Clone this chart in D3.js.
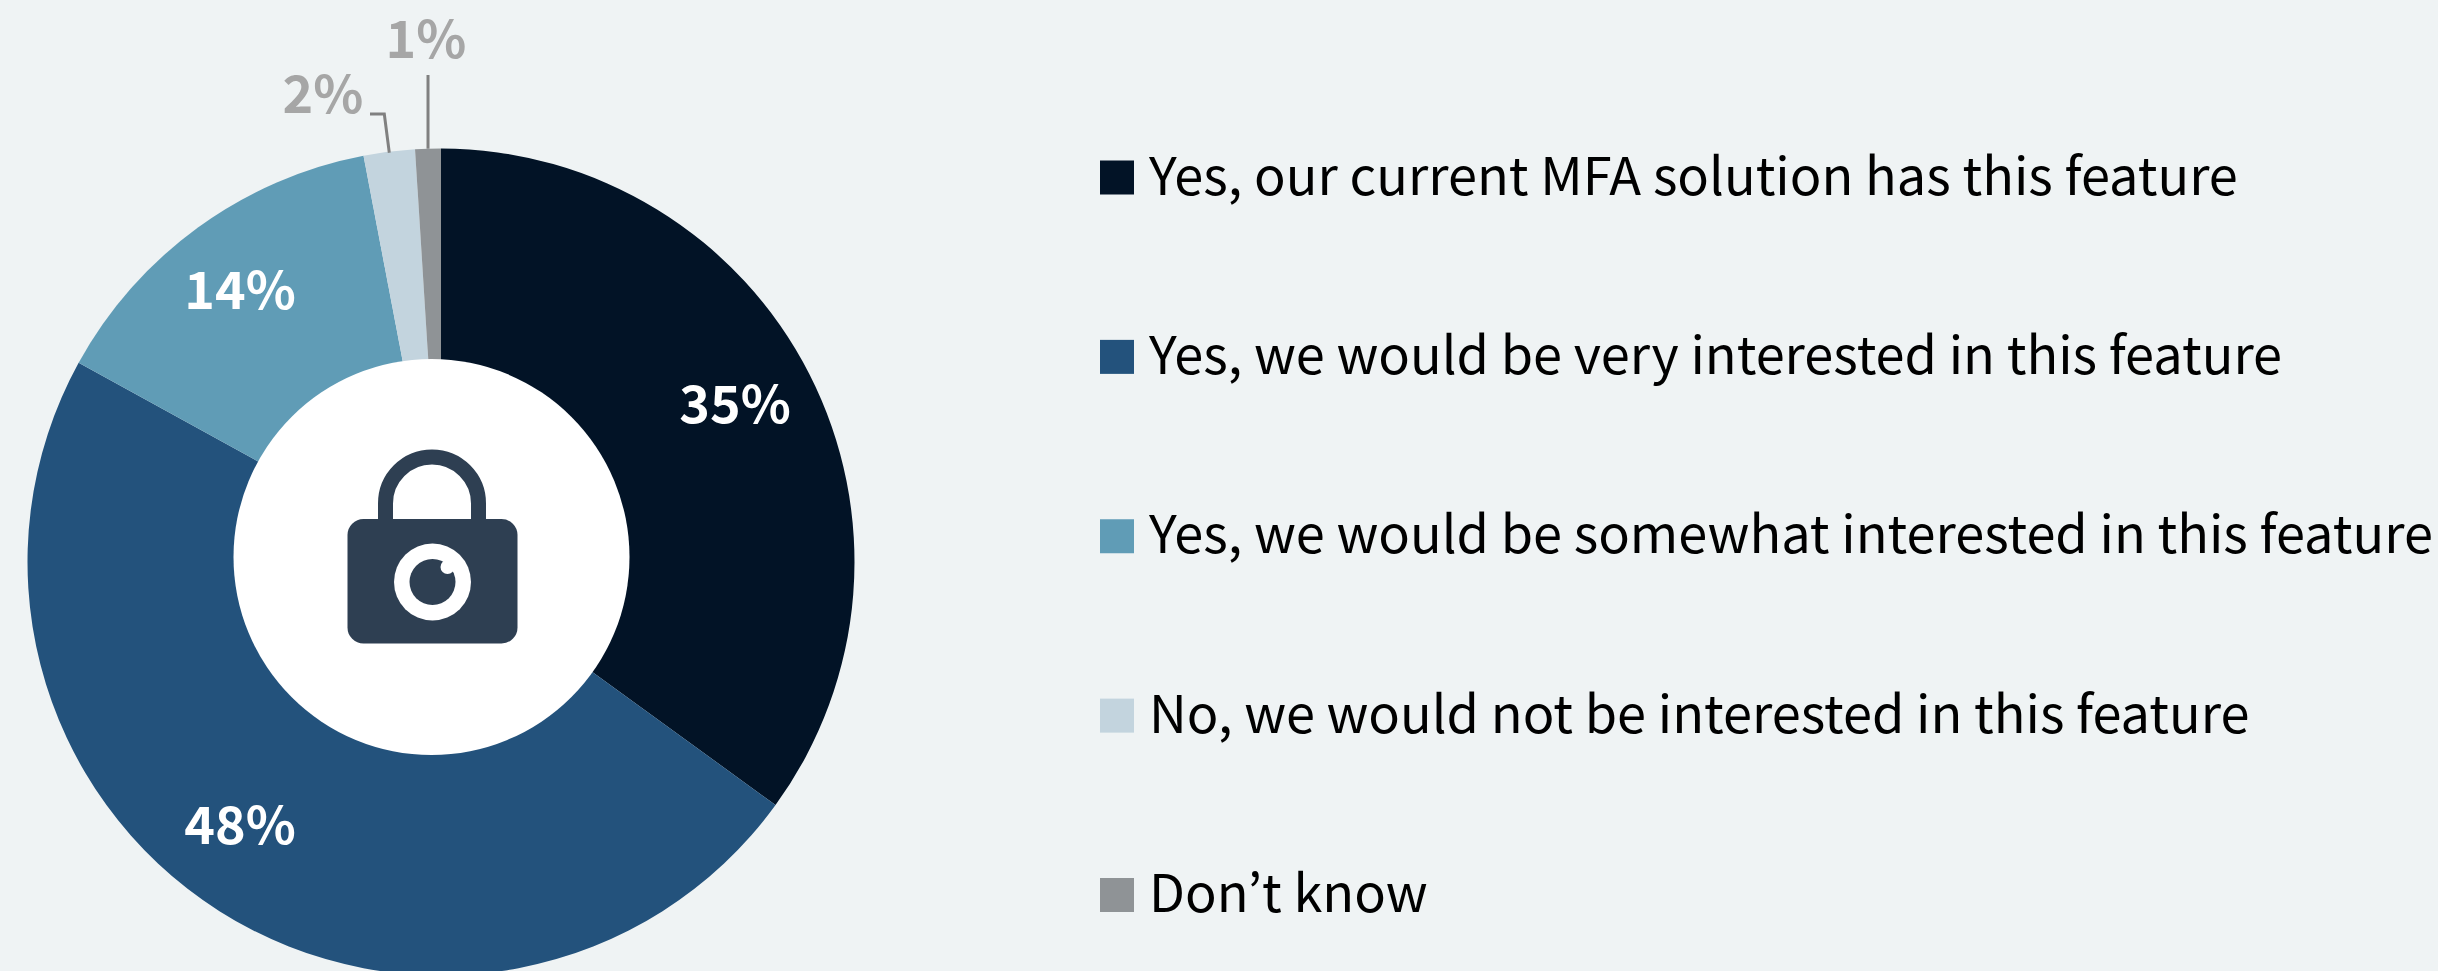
<!DOCTYPE html>
<html><head><meta charset="utf-8">
<script src="https://cdn.jsdelivr.net/npm/d3@7/dist/d3.min.js"></script>
<style>html,body{margin:0;padding:0;background:#eff3f4;overflow:hidden}svg{display:block}text{font-family:"Noto Sans CJK JP","Noto Sans",sans-serif}</style>
</head><body><svg id="c" width="2438" height="971"></svg>
<script>
const categories=["Yes, our current MFA solution has this feature","Yes, we would be very interested in this feature","Yes, we would be somewhat interested in this feature","No, we would not be interested in this feature","Don’t know"];
const values=[35,48,14,2,1];
const colors=["#021326","#23527c","#609cb6","#c3d4de","#8f9396"];
const svg=d3.select("#c");
const cx=441,cy=562,R=413.5;
const pie=d3.pie().sort(null).value(d=>d)(values);
const arc=d3.arc().innerRadius(0).outerRadius(R);
const g=svg.append("g").attr("transform",`translate(${cx},${cy})`);
g.selectAll("path").data(pie).join("path").attr("d",arc).attr("fill",(d,i)=>colors[i]);
svg.append("circle").attr("cx",431.5).attr("cy",557).attr("r",198).attr("fill","#fff");
// lock icon
const lock=svg.append("g").attr("fill","#2e3f52");
lock.append("path").attr("d","M385.5 520V503.5a46.5 46.5 0 0 1 93 0V520").attr("fill","none").attr("stroke","#2e3f52").attr("stroke-width",15);
lock.append("rect").attr("x",347.5).attr("y",519).attr("width",170).attr("height",124.5).attr("rx",16);
lock.append("circle").attr("cx",432.5).attr("cy",582).attr("r",38.5).attr("fill","#fff");
lock.append("circle").attr("cx",432.5).attr("cy",582).attr("r",23);
lock.append("circle").attr("cx",447.5).attr("cy",567).attr("r",7).attr("fill","#fff");
// inner labels
const fs=52;
const inner=[[735,404.5],[240,825.5],[240,290.5]];
inner.forEach((p,i)=>svg.append("text").attr("x",p[0]).attr("y",p[1]+18).attr("text-anchor","middle").attr("font-size",fs).attr("font-weight",700).attr("fill","#fff").text(values[i]+"%"));
// outer labels and leaders
const pt=(d,r)=>{const a=(d.startAngle+d.endAngle)/2;return [cx+r*Math.sin(a),cy-r*Math.cos(a)]};
const ld=pie[3],le=pie[4];
const p3=pt(ld,R-1),p4=pt(le,R);
svg.append("path").attr("d",`M${p3[0]},${p3[1]}L${p3[0]-5},114H370`).attr("fill","none").attr("stroke","#808080").attr("stroke-width",3);
svg.append("path").attr("d",`M${p4[0]},${p4[1]}V75`).attr("fill","none").attr("stroke","#808080").attr("stroke-width",3);
[[323,113,3],[426,58,4]].forEach(p=>svg.append("text").attr("x",p[0]).attr("y",p[1]).attr("text-anchor","middle").attr("font-size",fs).attr("font-weight",700).attr("fill","#a6a6a6").text(values[p[2]]+"%"));
// legend
const y=d3.scalePoint().domain(categories).range([177.5,895]);
const lg=svg.selectAll("g.l").data(categories).join("g").attr("class","l").attr("transform",d=>`translate(1100,${y(d)})`);
lg.append("rect").attr("y",-17).attr("width",34).attr("height",34).attr("fill",(d,i)=>colors[i]);
lg.append("text").attr("x",49).attr("y",17).attr("font-size",52.3).attr("fill","#000").text(d=>d);
</script></body></html>
